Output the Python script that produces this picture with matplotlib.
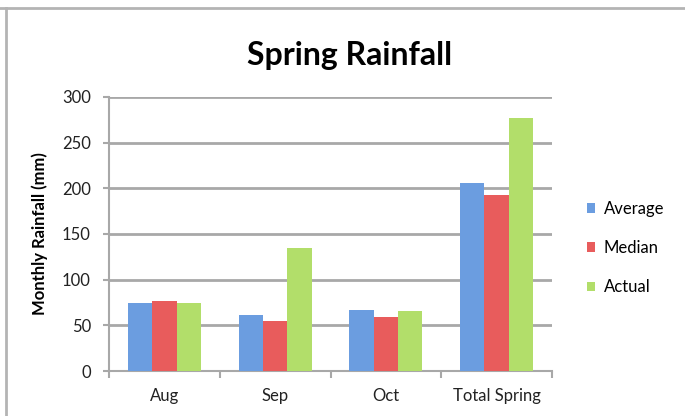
import matplotlib
matplotlib.use("Agg")
import matplotlib.pyplot as plt
import numpy as np
from matplotlib.lines import Line2D

plt.rcParams['font.family'] = ['Lato', 'DejaVu Sans']

categories = ["Aug", "Sep", "Oct", "Total Spring"]
average = [75, 61, 67, 206]
median = [77, 55, 59, 193]
actual = [74, 135, 66, 277]
series_names = ["Average", "Median", "Actual"]
colors = ["#6b9de0", "#e85c5c", "#b2de6a"]
yticks = [0, 50, 100, 150, 200, 250, 300]

fig = plt.figure(figsize=(6.85, 4.16), dpi=100)
ax = fig.add_axes([109/685, (416-371)/416, (552-109)/685, (371-97)/416])

x = np.arange(len(categories))
w = 0.22
for i, (vals, name, c) in enumerate(zip([average, median, actual], series_names, colors)):
    ax.bar(x + (i - 1) * w, vals, width=w, color=c, label=name, zorder=3)

ax.set_xlim(-0.5, 3.5)
ax.set_ylim(0, 300)
ax.set_yticks(yticks)
ax.set_xticks(x)
ax.set_xticklabels(categories)
ax.set_xticks(np.arange(-0.5, 4.0, 1.0), minor=True)
ax.tick_params(axis='x', which='major', length=0, pad=12, labelsize=12, labelcolor='#222222')
ax.tick_params(axis='x', which='minor', length=5, width=1.5, color='#a8a8a8', direction='out')
ax.tick_params(axis='y', which='major', length=4, width=1.5, color='#a8a8a8', pad=9, labelsize=12, labelcolor='#222222')
ax.yaxis.grid(True, color='#a8a8a8', linewidth=2, zorder=0)
ax.set_axisbelow(True)
for s in ['top', 'right']:
    ax.spines[s].set_visible(False)
for s in ['left', 'bottom']:
    ax.spines[s].set_color('#a8a8a8')
    ax.spines[s].set_linewidth(1.5)

ax.set_ylabel("Monthly Rainfall (mm)", fontsize=12, fontweight='bold', labelpad=10)
fig.text(350/685, 1 - 55/416, "Spring Rainfall", ha='center', va='center', fontsize=23, fontweight='bold')

leg = ax.legend(loc='center left', bbox_to_anchor=(572/685, 1 - 248/416), bbox_transform=fig.transFigure,
                frameon=False, fontsize=12, handlelength=0.5, handleheight=0.5, handletextpad=0.5,
                labelspacing=1.4)

fig.add_artist(Line2D([0, 1], [1 - 8/416, 1 - 8/416], transform=fig.transFigure, color='#b4b4b4', linewidth=2))
fig.add_artist(Line2D([6/685, 6/685], [0, 1 - 8/416], transform=fig.transFigure, color='#b4b4b4', linewidth=2))

fig.savefig("out.png", dpi=100)
